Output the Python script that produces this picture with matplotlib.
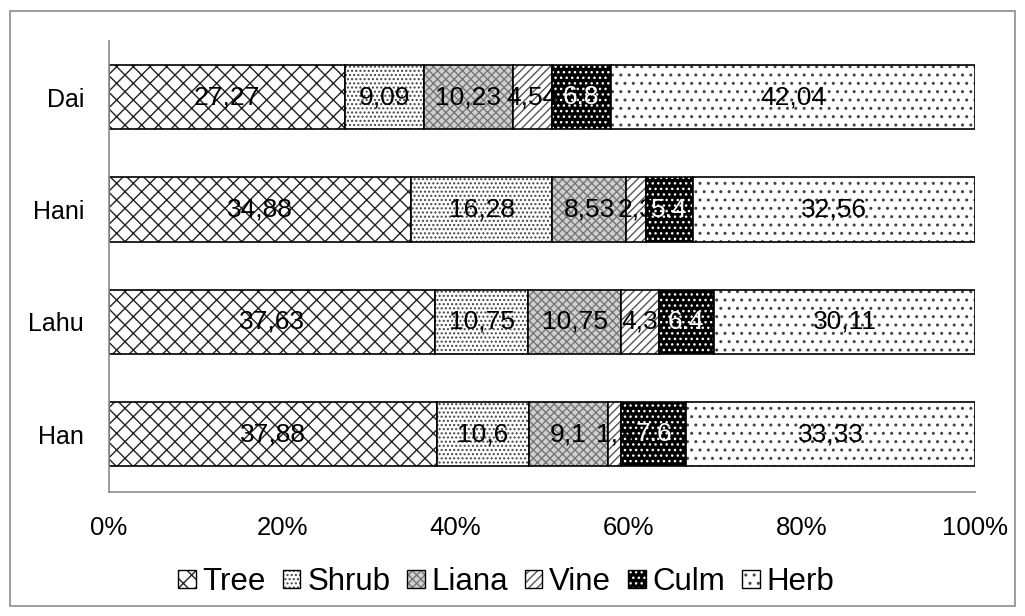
import matplotlib
matplotlib.use("Agg")
import matplotlib.pyplot as plt
from matplotlib.patches import Patch, Rectangle
from matplotlib.legend_handler import HandlerTuple

plt.rcParams['font.family'] = ['Liberation Sans', 'DejaVu Sans']
plt.rcParams['hatch.linewidth'] = 1.0

groups = ["Han", "Lahu", "Hani", "Dai"]
series = ["Tree", "Shrub", "Liana", "Vine", "Culm", "Herb"]
tree = [37.88, 37.63, 34.88, 27.27]
shrub = [10.6, 10.75, 16.28, 9.09]
liana = [9.1, 10.75, 8.53, 10.23]
vine = [1.5, 4.3, 2.3, 4.54]
culm = [7.6, 6.4, 5.4, 6.8]
herb = [33.33, 30.11, 32.56, 42.04]
values = [tree, shrub, liana, vine, culm, herb]
xticklabels = ["0%", "20%", "40%", "60%", "80%", "100%"]

faces = ['white', 'white', '#d0d0d0', 'white', 'black', 'white']
hatches = ['xx', '....', 'xxxx', '////', '...', '..']
hcolors = ['#222222', '#444444', '#777777', '#555555', 'white', '#444444']
txtcolors = ['black', 'black', 'black', 'black', 'white', 'black']

fig = plt.figure(figsize=(10.25, 6.16), dpi=100)
ax = fig.add_axes([0.1063, 0.2013, 0.8449, 0.7321])

n = len(groups)
totals = [sum(values[s][i] for s in range(len(series))) for i in range(n)]
ypos = list(range(n))
left = [0.0] * n
handles = []
texts = []
for s, name in enumerate(series):
    w = [values[s][i] / totals[i] * 100 for i in range(n)]
    ax.barh(ypos, w, left=left, height=0.57, color=faces[s], hatch=hatches[s],
            edgecolor=hcolors[s], linewidth=0)
    ax.barh(ypos, w, left=left, height=0.57, fill=False, edgecolor='black', linewidth=1.2)
    for i in range(n):
        v = values[s][i]
        lab = str(v) if name == "Culm" else str(v).replace('.', ',')
        texts.append((left[i] + w[i] / 2, ypos[i], lab, txtcolors[s]))
    left = [left[i] + w[i] for i in range(n)]
    p1 = Patch(facecolor=faces[s], hatch=hatches[s], edgecolor=hcolors[s], linewidth=0)
    p2 = Patch(fill=False, edgecolor='black', linewidth=1.0)
    handles.append((p1, p2))

for x, y, lab, c in texts:
    ax.text(x, y, lab, ha='center', va='center', fontsize=19, color=c, zorder=5)

ax.set_xlim(0, 100)
ax.set_ylim(-0.515, 3.5)
ax.set_yticks(ypos)
ax.set_yticklabels(groups, fontsize=18)
ax.set_xticks([0, 20, 40, 60, 80, 100])
ax.set_xticklabels(xticklabels, fontsize=18.5)
ax.tick_params(axis='both', length=0)
ax.tick_params(axis='x', pad=17)
ax.tick_params(axis='y', pad=18)
for sp in ['top', 'right']:
    ax.spines[sp].set_visible(False)
for sp in ['left', 'bottom']:
    ax.spines[sp].set_color('#8c8c8c')
    ax.spines[sp].set_linewidth(1.2)

fig.legend(handles, series, handler_map={tuple: HandlerTuple(ndivide=1)},
           loc='center', bbox_to_anchor=(0.494, 0.055), ncol=6, frameon=False,
           fontsize=22.5, handlelength=0.55, handleheight=0.55, handletextpad=0.22,
           columnspacing=0.55, borderaxespad=0)

fig.patches.append(Rectangle((10 / 1025, 10 / 616), 1005 / 1025, 595 / 616,
                             transform=fig.transFigure, fill=False,
                             edgecolor='#8c8c8c', linewidth=1.2))

fig.savefig("out.png", dpi=100)
